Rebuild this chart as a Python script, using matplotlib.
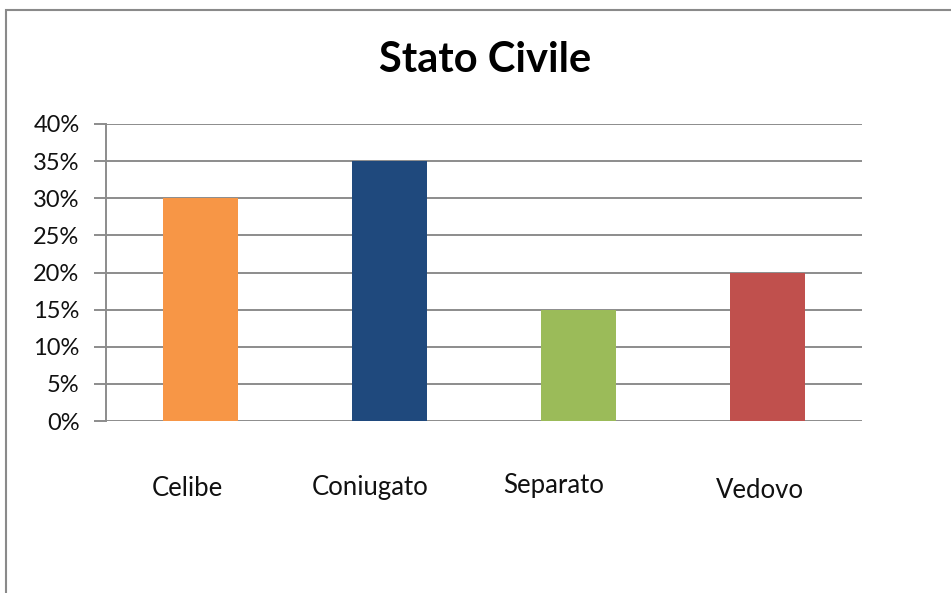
"""Bar chart of marital status shares."""

import matplotlib.pyplot as plt
from matplotlib.patches import Rectangle
from matplotlib.ticker import FuncFormatter, MultipleLocator
from matplotlib.transforms import blended_transform_factory
import numpy as np

categories = ["Celibe", "Coniugato", "Separato", "Vedovo"]
shares = [0.30, 0.35, 0.15, 0.20]
colors = ["#F79646", "#1F497D", "#9BBB59", "#C0504D"]

GRID = "#8C8C8C"
FONT = "Lato"

# label nudges (in category units / pixels) mimicking the spreadsheet layout
label_dx = [-0.07, -0.10, -0.13, -0.04]
label_y = [489, 488, 486, 490]

fig = plt.figure(figsize=(9.51, 5.93), dpi=100)
W, H = 951, 593

# outer chart frame (right and bottom edges fall outside the canvas)
fig.patches.append(Rectangle((6 / W, -0.05), 1.2, 1 - 10 / H + 0.05,
                             transform=fig.transFigure, fill=False,
                             edgecolor="#8A8A8A", linewidth=1.5))

ax = fig.add_axes([106 / W, 1 - 421 / H, (862 - 106) / W, (421 - 124) / H])
x = np.arange(len(categories))
ax.bar(x, shares, width=0.4, color=colors, zorder=3)

ax.set_xlim(-0.5, len(categories) - 0.5)
ax.set_ylim(0, 0.40)
ax.yaxis.set_major_locator(MultipleLocator(0.05))
ax.yaxis.set_major_formatter(FuncFormatter(lambda v, _: f"{v * 100:.0f}%"))
ax.grid(axis="y", color=GRID, linewidth=1.4, zorder=0)
ax.set_axisbelow(True)
for side in ["top", "right", "bottom"]:
    ax.spines[side].set_visible(False)
ax.spines["left"].set_color(GRID)
ax.spines["left"].set_linewidth(1.4)
ax.tick_params(axis="y", length=9, width=1.4, color=GRID, pad=10,
               labelsize=17, labelcolor="#111111")
ax.tick_params(axis="x", length=0, labelbottom=False)
for lab in ax.get_yticklabels():
    lab.set_fontfamily(FONT)

label_tf = blended_transform_factory(ax.transData, fig.transFigure)
for i, name in enumerate(categories):
    ax.text(i + label_dx[i], 1 - label_y[i] / H, name, transform=label_tf,
            ha="center", va="center", fontsize=18.5, family=FONT, color="#111111")

fig.text(485 / W, 1 - 60 / H, "Stato Civile", ha="center", va="center",
         fontsize=30, fontweight="bold", family=FONT, color="#000000")

fig.savefig("out.png", dpi=100)
